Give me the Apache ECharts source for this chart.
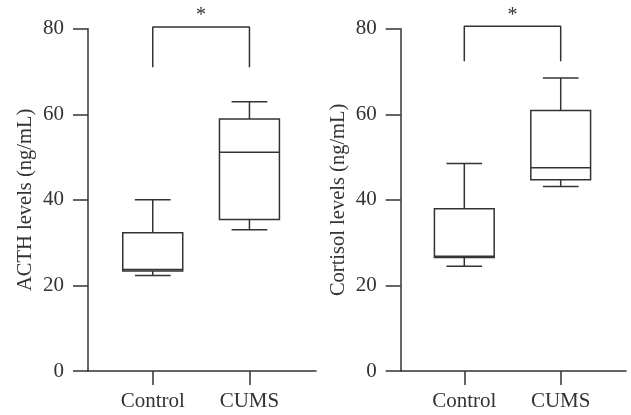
<!DOCTYPE html>
<html>
<head>
<meta charset="utf-8">
<script src="https://cdn.jsdelivr.net/npm/echarts@6/dist/echarts.min.js"></script>
<style>
html,body{margin:0;padding:0;background:#fff;}
#c{width:631px;height:415px;}
</style>
</head>
<body>
<div id="c"></div>
<script>
// ---- data ----
var categories = ['Control', 'CUMS'];
// [min, Q1, median, Q3, max]
var acthControl = [22.3, 23.4, 23.7, 32.3, 40.0];
var acthCUMS = [33.0, 35.4, 51.1, 58.9, 62.9];
var cortisolControl = [24.5, 26.5, 26.8, 37.9, 48.5];
var cortisolCUMS = [43.1, 44.7, 47.5, 60.9, 68.5];
// significance bracket: [leg bottom, bracket top]
var acthBracket = [71.0, 80.4];
var cortisolBracket = [72.4, 80.6];
var yTicks = [0, 20, 40, 60, 80];
var yNames = ['ACTH levels (ng/mL)', 'Cortisol levels (ng/mL)'];
var sigMark = '*';

var FONT = '"Liberation Serif", "DejaVu Serif", serif';
var INK = '#333';
var LW = 1.5;

function boxData(arrs) {
  return arrs.map(function (a, i) { return [i].concat(a); });
}
function bracketData(b) {
  return [[categories[0], b[0]], [categories[0], b[1]], [categories[1], b[1]], [categories[1], b[0]]];
}

function renderBox(params, api) {
  var x = api.value(0);
  var lo = api.coord([x, api.value(1)]);
  var q1 = api.coord([x, api.value(2)]);
  var med = api.coord([x, api.value(3)]);
  var q3 = api.coord([x, api.value(4)]);
  var hi = api.coord([x, api.value(5)]);
  var band = api.size([1, 0])[0];
  var bw = band * 0.62 / 2, cw = band * 0.37 / 2;
  var cx = lo[0];
  var st = { stroke: INK, lineWidth: LW, fill: null };
  return {
    type: 'group',
    children: [
      { type: 'line', shape: { x1: cx, y1: hi[1], x2: cx, y2: q3[1] }, style: st },
      { type: 'line', shape: { x1: cx - cw, y1: hi[1], x2: cx + cw, y2: hi[1] }, style: st },
      { type: 'line', shape: { x1: cx, y1: lo[1], x2: cx, y2: q1[1] }, style: st },
      { type: 'line', shape: { x1: cx - cw, y1: lo[1], x2: cx + cw, y2: lo[1] }, style: st },
      { type: 'rect', shape: { x: cx - bw, y: q3[1], width: 2 * bw, height: q1[1] - q3[1] }, style: { stroke: INK, lineWidth: LW, fill: '#fff' } },
      { type: 'line', shape: { x1: cx - bw, y1: med[1], x2: cx + bw, y2: med[1] }, style: st }
    ]
  };
}

var TOP = 28.7, BOTTOM = 415 - 371;
var panels = [
  { axisLeft: 88, axisRight: 316, boxLeft: 104.4, boxRight: 297.8, name: yNames[0], boxes: [acthControl, acthCUMS], bracket: acthBracket },
  { axisLeft: 400.7, axisRight: 626, boxLeft: 416.1, boxRight: 608.9, name: yNames[1], boxes: [cortisolControl, cortisolCUMS], bracket: cortisolBracket }
];

var grid = [], xAxis = [], yAxis = [], series = [], graphic = [];
panels.forEach(function (p, k) {
  var gA = grid.length;
  grid.push({ left: p.axisLeft, width: p.axisRight - p.axisLeft, top: TOP, bottom: BOTTOM });
  grid.push({ left: p.boxLeft, width: p.boxRight - p.boxLeft, top: TOP, bottom: BOTTOM });
  // frame axes (grid A)
  xAxis.push({
    gridIndex: gA, type: 'value', min: 0, max: 1,
    axisLine: { show: true, lineStyle: { color: INK, width: LW } },
    axisTick: { show: false }, axisLabel: { show: false }, splitLine: { show: false }
  });
  yAxis.push({
    gridIndex: gA, type: 'value', min: yTicks[0], max: yTicks[yTicks.length - 1], interval: yTicks[1] - yTicks[0],
    name: p.name, nameLocation: 'middle', nameGap: 52, nameRotate: 90,
    nameTextStyle: { fontFamily: FONT, fontSize: 20.5, color: INK },
    axisLine: { show: true, lineStyle: { color: INK, width: LW } },
    axisTick: { show: true, inside: false, length: 15, lineStyle: { color: INK, width: LW } },
    axisLabel: { show: true, margin: 24, fontFamily: FONT, fontSize: 21, color: INK },
    splitLine: { show: false }
  });
  // box axes (grid B)
  xAxis.push({
    gridIndex: gA + 1, type: 'category', data: categories, boundaryGap: true,
    axisLine: { show: false },
    axisTick: { show: true, alignWithLabel: true, length: 14, lineStyle: { color: INK, width: LW } },
    axisLabel: { margin: 20, fontFamily: FONT, fontSize: 21, color: INK },
    splitLine: { show: false }
  });
  yAxis.push({
    gridIndex: gA + 1, type: 'value', min: yTicks[0], max: yTicks[yTicks.length - 1],
    show: false, splitLine: { show: false }
  });
  series.push({
    type: 'custom', xAxisIndex: gA + 1, yAxisIndex: gA + 1,
    data: boxData(p.boxes), renderItem: renderBox, silent: true,
    encode: { x: 0, y: [1, 2, 3, 4, 5] }
  });
  series.push({
    type: 'line', xAxisIndex: gA + 1, yAxisIndex: gA + 1, clip: false,
    data: bracketData(p.bracket), symbol: 'none', silent: true,
    lineStyle: { color: INK, width: LW }
  });
  graphic.push({
    type: 'text', x: (p.boxLeft + p.boxRight) / 2, y: 6,
    style: { text: sigMark, font: '20px ' + FONT, fill: INK, align: 'center', verticalAlign: 'top' }
  });
});

var chart = echarts.init(document.getElementById('c'), null, { renderer: 'canvas' });
chart.setOption({
  animation: false,
  backgroundColor: '#fff',
  grid: grid, xAxis: xAxis, yAxis: yAxis, series: series, graphic: graphic
});
</script>
</body>
</html>
